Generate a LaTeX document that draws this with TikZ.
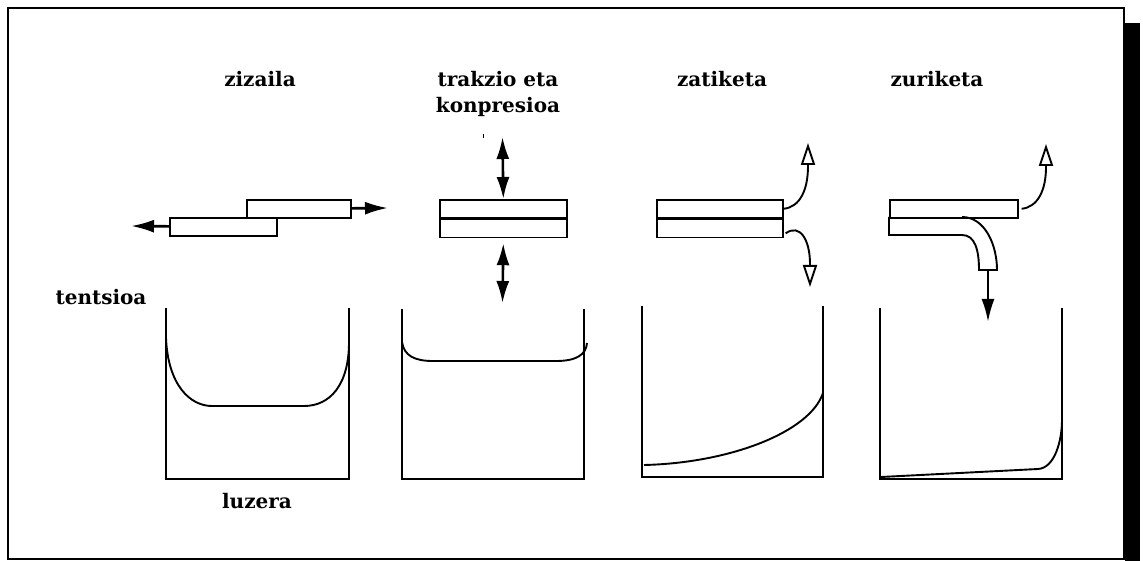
\documentclass[tikz,border=0pt]{standalone}
\usepackage{fontspec}
\setmainfont{DejaVu Serif}
\usetikzlibrary{arrows.meta,positioning,calc}
\tikzset{
    plate/.style={draw, rectangle, line width=1.6pt, inner sep=0pt, minimum height=18pt},
    heading/.style={font=\bfseries\fontsize{20}{26}\selectfont, inner sep=0pt},
    push/.style={-{Latex[length=23pt, width=13pt]}, line width=2.6pt},
    both/.style={{Latex[length=22pt, width=13pt]}-{Latex[length=22pt, width=13pt]}, line width=2.6pt},
    split/.style={-{Triangle[open, length=22pt, width=14pt]}, line width=1.9pt},
    axes/.style={line width=2.8pt},
    trace/.style={line width=1.9pt}
}

\begin{document}
\begin{tikzpicture}[x=1pt, y=-1pt]
    \useasboundingbox (0,0) rectangle (1143,561);
    % frame with its shadow
    \fill (1125,23) rectangle (1140,561);
    \draw[line width=1.5pt] (8,8) rectangle (1124,559);

    % headings
    \node[heading, anchor=base] (zizTitle) at (260,87) {zizaila};
    \node[heading, anchor=base] (trkTitle) at (498,87) {trakzio eta};
    \node[heading, anchor=base] (trkTitleB) at (498,113) {konpresioa};
    \node[heading, anchor=base] (zatTitle) at (722,87) {zatiketa};
    \node[heading, anchor=base] (zurTitle) at (937,87) {zuriketa};
    \node[heading, anchor=base] (stress) at (101,305) {tentsioa};
    \node[heading, anchor=base] (length) at (257,508) {luzera};
    \draw[line width=1pt] (483,134) -- (483,138);

    % zizaila
    \node[plate, minimum width=104pt, anchor=north west] (shearTop) at (246,199) {};
    \node[plate, minimum width=107pt, anchor=north west] (shearBot) at (169,217) {};
    \coordinate (shearR) at (388,208);
    \coordinate (shearL) at (131,226);
    \draw[push] (shearTop) -- (shearR);
    \draw[push] (shearBot) -- (shearL);

    % trakzio eta konpresioa
    \node[plate, minimum width=127pt, anchor=north west] (trkUp) at (439,199) {};
    \node[plate, minimum width=127pt, below=0pt of trkUp] (trkLow) {};
    \coordinate (trkA) at (502.5,137);
    \coordinate (trkB) at (502.5,303);
    \draw[both] (trkA) -- (trkUp.north);
    \draw[both] ([yshift=-5pt]trkLow.south) -- (trkB);

    % zatiketa
    \node[plate, minimum width=126pt, anchor=north west] (zatUp) at (656,199) {};
    \node[plate, minimum width=126pt, below=0pt of zatUp] (zatLow) {};
    \coordinate (zatA) at (808,143);
    \coordinate (zatB) at (810,287);
    \draw[split] (zatUp.east) .. controls (800,207) and (808,190) .. (808,166) -- (zatA);
    \draw[split] ([xshift=2pt, yshift=-5pt]zatLow.east) .. controls (800,223) and (810,240) .. (810,264) -- (zatB);

    % zuriketa
    \node[plate, minimum width=128pt, anchor=north west] (zurUp) at (889,199) {};
    \coordinate (zurA) at (1046,144);
    \coordinate (zurB) at (988,322);
    \draw[split] ([xshift=3pt]zurUp.east) .. controls (1038,207) and (1046,190) .. (1046,167) -- (zurA);
    \draw[line width=1.9pt] (889,217) -- (889,235) -- (962,235)
        .. controls (975,235) and (979,250) .. (979,270) -- (997,270)
        .. controls (997,245) and (985,217) .. (962,217);
    \draw[push, line width=2.4pt] (988,270) -- (zurB);

    % tentsioa / luzera graphs
    \draw[axes] (166,308) -- (166,479) -- (349,479) -- (349,308);
    \draw[trace] (166,338) .. controls (168,385) and (190,406) .. (212,406) -- (304,406)
        .. controls (330,406) and (349,385) .. (349,342);
    \draw[axes] (402,309) -- (402,479) -- (584,479) -- (584,309);
    \draw[trace] (402,342) .. controls (404,356) and (415,361) .. (433,361) -- (556,361)
        .. controls (576,361) and (586,355) .. (587,343);
    \draw[axes] (642,306) -- (642,477) -- (823,477) -- (823,306);
    \draw[trace] (644,465) .. controls (730,463) and (810,432) .. (823,393);
    \draw[axes] (880,308) -- (880,479) -- (1062,479) -- (1062,308);
    \draw[trace] (881,477) -- (1038,469) .. controls (1055,468) and (1062,440) .. (1062,420);
\end{tikzpicture}
\end{document}
